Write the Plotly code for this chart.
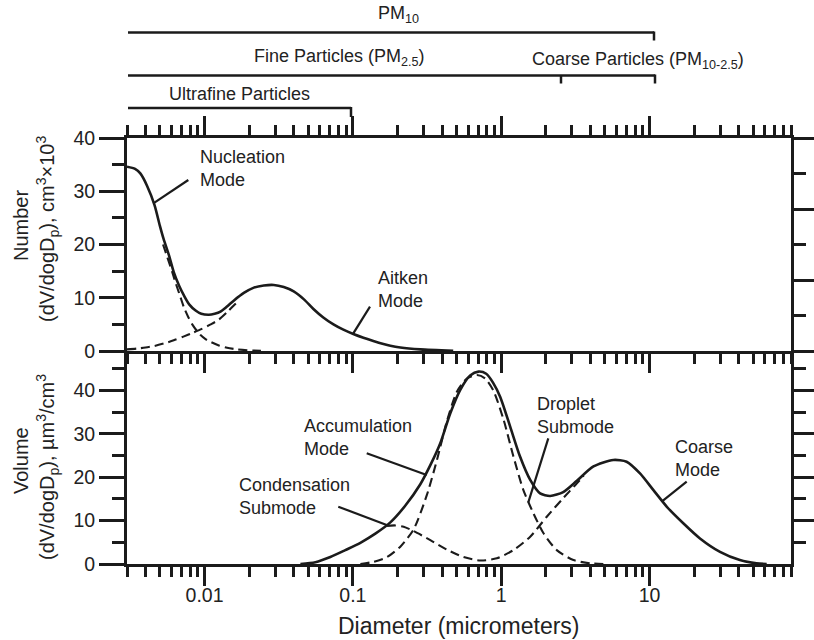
import math
import plotly.graph_objects as go

# ---------------- data ----------------
# Top panel: number distribution
num_total_d = [0.0030, 0.0034, 0.0037, 0.0041, 0.0046, 0.0050, 0.0053, 0.00575, 0.0062, 0.00675,
               0.0073, 0.0079, 0.0087, 0.0095, 0.0107, 0.0117, 0.0128, 0.0141, 0.0158, 0.0184,
               0.0215, 0.0251, 0.0293, 0.0342, 0.0399, 0.0468, 0.0542, 0.0632, 0.0740, 0.0863,
               0.1007, 0.1178, 0.1374, 0.179, 0.209, 0.285, 0.475]
num_total = [34.6, 34.2, 33.3, 31.0, 27.4, 23.5, 21.0, 18.0, 14.8, 12.2,
             10.3, 8.7, 7.6, 7.0, 6.8, 7.0, 7.4, 8.3, 9.5, 10.9,
             11.9, 12.3, 12.4, 12.0, 11.2, 9.7, 7.9, 6.3, 5.0, 4.0,
             3.2, 2.5, 1.9, 1.0, 0.65, 0.3, 0.05]

nucleation_d = [0.00525, 0.00561, 0.00603, 0.00638, 0.00681, 0.00726, 0.00776, 0.00826, 0.00881,
                0.0094, 0.0102, 0.0110, 0.0126, 0.0142, 0.0166, 0.0194, 0.0240]
nucleation = [20.0, 17.6, 15.0, 12.8, 10.5, 8.2, 6.4, 5.0, 3.9,
              3.0, 2.2, 1.7, 1.0, 0.6, 0.3, 0.15, 0.05]

aitken_d = [0.0030, 0.0035, 0.0040, 0.0046, 0.0053, 0.0062, 0.0072, 0.0083, 0.0095,
            0.0110, 0.0125, 0.0142, 0.0158, 0.0170]
aitken = [0.3, 0.45, 0.65, 0.95, 1.4, 2.0, 2.7, 3.4, 4.1,
          5.0, 5.9, 7.3, 8.6, 9.5]

# Bottom panel: volume distribution
vol_total_d = [0.0443, 0.0559, 0.0705, 0.0889, 0.1124, 0.1418, 0.179, 0.226, 0.285, 0.333,
               0.388, 0.454, 0.530, 0.618, 0.703, 0.793, 0.883, 0.984, 1.15, 1.34,
               1.57, 1.83, 2.14, 2.62, 3.24, 4.19, 5.70, 7.01, 8.63, 10.6,
               13.1, 16.9, 21.9, 29.9, 40.7, 52.7, 61.7]
vol_total = [0.0, 0.4, 1.6, 3.2, 4.9, 7.0, 9.6, 13.5, 18.4, 22.8,
             27.8, 34.8, 40.2, 43.5, 44.4, 43.9, 41.8, 38.6, 31.7, 24.8,
             19.4, 16.3, 15.7, 16.6, 19.2, 22.5, 24.0, 23.6, 20.9, 17.1,
             13.2, 9.4, 5.9, 2.8, 0.9, 0.15, 0.0]

droplet_d = [0.1124, 0.138, 0.170, 0.209, 0.257, 0.316, 0.369, 0.431, 0.504, 0.588, 0.687,
             0.780, 0.887, 1.04, 1.21, 1.41, 1.65, 1.93, 2.37, 3.07, 3.98, 5.0]
droplet = [0.0, 0.5, 1.6, 4.0, 8.0, 16.0, 24.0, 33.0, 39.8, 42.8, 43.6,
           42.8, 40.0, 33.2, 24.8, 17.1, 11.7, 7.1, 3.2, 0.9, 0.15, 0.0]

cond_coarse_d = [0.170, 0.193, 0.220, 0.257, 0.333, 0.431, 0.557, 0.723, 0.935, 1.21,
                 1.57, 2.03, 2.62, 3.24, 3.60]
cond_coarse = [8.8, 8.9, 8.6, 7.6, 5.5, 3.3, 1.6, 0.8, 1.3, 3.2,
               6.3, 10.9, 15.2, 18.6, 20.4]

x_tick_vals = [0.01, 0.1, 1, 10]
x_tick_text = ["0.01", "0.1", "1", "10"]
x_minor_vals = [m * 10.0 ** e for e in (-3, -2, -1, 0, 1) for m in range(2, 10)
                if 0.003 <= m * 10.0 ** e <= 90.0]

# ---------------- styling / layout helpers ----------------
INK = "#1b1b1b"
TXT = "#222222"
FONT = "Liberation Sans, Arial, Helvetica, sans-serif"
W, H = 814, 640
L, R, T, B = 127, 791, 138, 564


def px(x):
    return (x - L) / (R - L)


def py(y):
    return (B - y) / (B - T)


DASH = "9px,5px"

fig = go.Figure()


def add_line(xs, ys, ax, ay, dashed):
    fig.add_trace(go.Scatter(
        x=xs, y=ys, xaxis=ax, yaxis=ay, mode="lines", hoverinfo="skip",
        line=dict(color=INK, width=2.1 if dashed else 2.6,
                  dash=DASH if dashed else "solid", shape="spline", smoothing=0.7),
        showlegend=False))


add_line(nucleation_d, nucleation, "x2", "y2", True)
add_line(aitken_d, aitken, "x2", "y2", True)
add_line(num_total_d, num_total, "x2", "y2", False)
add_line(droplet_d, droplet, "x", "y", True)
add_line(cond_coarse_d, cond_coarse, "x", "y", True)
add_line(vol_total_d, vol_total, "x", "y", False)

# empty traces so the right-hand tick axes own a subplot
fig.add_trace(go.Scatter(x=[], y=[], xaxis="x2", yaxis="y3", showlegend=False, hoverinfo="skip"))
fig.add_trace(go.Scatter(x=[], y=[], xaxis="x", yaxis="y4", showlegend=False, hoverinfo="skip"))

xr = [math.log10(0.003), math.log10(90)]

xcommon = dict(type="log", range=xr, showgrid=False, zeroline=False, showline=True,
               automargin=False,
               linecolor=INK, linewidth=3, ticks="outside", tickwidth=2.5, tickcolor=INK,
               ticklen=19, tickmode="array", tickvals=x_tick_vals,
               minor=dict(tickmode="array", tickvals=x_minor_vals, ticks="outside",
                          ticklen=10, tickwidth=2.5, tickcolor=INK, showgrid=False),
               tickfont=dict(family=FONT, size=19.5, color=TXT))

ycommon = dict(showgrid=False, zeroline=False, showline=True, linecolor=INK, linewidth=3,
               automargin=False,
               ticks="outside", tickwidth=2.5, tickcolor=INK, ticklen=25,
               tickfont=dict(family=FONT, size=19.5, color=TXT), fixedrange=True)

rcommon = dict(showgrid=False, zeroline=False, showline=True, linecolor=INK, linewidth=3,
               automargin=False, side="right", ticks="outside", ticklen=23,
               tickwidth=2.5, tickcolor=INK, tickmode="array", showticklabels=False,
               fixedrange=True)

fig.update_layout(
    width=W, height=H, margin=dict(l=L, r=W - R, t=T, b=H - B, autoexpand=False),
    paper_bgcolor="white", plot_bgcolor="white", showlegend=False,
    font=dict(family=FONT, color=TXT),
    xaxis=dict(**xcommon, anchor="y", domain=[0, 1], ticktext=x_tick_text,
               showticklabels=True, ticklabelstandoff=-7),
    xaxis2=dict(**xcommon, anchor="y2", domain=[0, 1], matches="x",
                showticklabels=False, mirror="ticks"),
    yaxis=dict(**ycommon, domain=[0, 0.5], anchor="x", range=[0, 49.15],
               tickmode="array", tickvals=[0, 10, 20, 30, 40],
               minor=dict(tickmode="array", tickvals=[5, 15, 25, 35, 45], ticks="outside",
                          ticklen=12, tickwidth=2.5, tickcolor=INK)),
    yaxis2=dict(**ycommon, domain=[0.5, 1], anchor="x2", range=[0, 40],
                tickmode="array", tickvals=[0, 10, 20, 30, 40],
                minor=dict(tickmode="array", tickvals=[5, 15, 25, 35], ticks="outside",
                           ticklen=12, tickwidth=2.5, tickcolor=INK)),
    yaxis3=dict(**rcommon, overlaying="y2", anchor="x2", range=[0, 6],
                tickvals=[0, 2, 4, 6],
                minor=dict(tickmode="array", tickvals=[1, 3, 5], ticks="outside",
                           ticklen=12, tickwidth=2.5, tickcolor=INK)),
    yaxis4=dict(**rcommon, overlaying="y", anchor="x", range=[0, 49.15],
                tickvals=[10, 20, 30, 40],
                minor=dict(tickmode="array", tickvals=[5, 15, 25, 35, 45], ticks="outside",
                           ticklen=12, tickwidth=2.5, tickcolor=INK)),
)

shapes = []


def seg(x0, y0, x1, y1, w=2.5):
    shapes.append(dict(type="line", xref="paper", yref="paper",
                       x0=px(x0), y0=py(y0), x1=px(x1), y1=py(y1),
                       line=dict(color=INK, width=w)))


# size-range brackets above the plot
seg(128, 32.5, 654, 32.5)
seg(654, 31.5, 654, 40.5)
seg(128, 75.5, 655, 75.5)
seg(655, 74.5, 655, 83.5)
seg(561, 75.5, 561, 83.5)
seg(128, 108, 351, 108)
seg(351, 107, 351, 117)

# leader lines
seg(188.3, 180, 153.3, 203.3, 2.2)
seg(370, 306.7, 353.3, 333.3, 2.2)
seg(366.7, 453.3, 426.7, 475, 2.2)
seg(338.3, 506.7, 386.7, 525, 2.2)
seg(548.3, 438.3, 528.3, 502.3, 2.2)
seg(686.7, 481.7, 661.7, 501.7, 2.2)

annotations = []


def label(text, x, y, xanchor="left", size=18, align="left", angle=0):
    annotations.append(dict(text=text, xref="paper", yref="paper", x=px(x), y=py(y),
                            xanchor=xanchor, yanchor="middle", showarrow=False,
                            align=align, textangle=angle,
                            font=dict(family=FONT, size=size, color=TXT)))


label("Nucleation<br>Mode", 198, 168)
label("Aitken<br>Mode", 376, 289)
label("Accumulation<br>Mode", 302, 437)
label("Condensation<br>Submode", 237, 496)
label("Droplet<br>Submode", 535, 415)
label("Coarse<br>Mode", 673, 458.5)

label("PM<sub>10</sub>", 398, 15, xanchor="center", size=18)
label("Fine Particles (PM<sub>2.5</sub>)", 339, 58, xanchor="center", size=18)
label("Coarse Particles (PM<sub>10-2.5</sub>)", 638, 61, xanchor="center", size=18)
label("Ultrafine Particles", 239, 94, xanchor="center", size=18)

label("Diameter (micrometers)", 459, 626, xanchor="center", size=23)
label("Number", 21, 226, xanchor="center", size=20, angle=-90)
label("(dV/dogD<sub>p</sub>), cm<sup>3</sup>×10<sup>3</sup>", 47, 229,
      xanchor="center", size=20, angle=-90)
label("Volume", 21, 461, xanchor="center", size=20, angle=-90)
label("(dV/dogD<sub>p</sub>), µm<sup>3</sup>/cm<sup>3</sup>", 47, 467,
      xanchor="center", size=20, angle=-90)

fig.update_layout(shapes=shapes, annotations=annotations)

fig.write_html("out.html")
